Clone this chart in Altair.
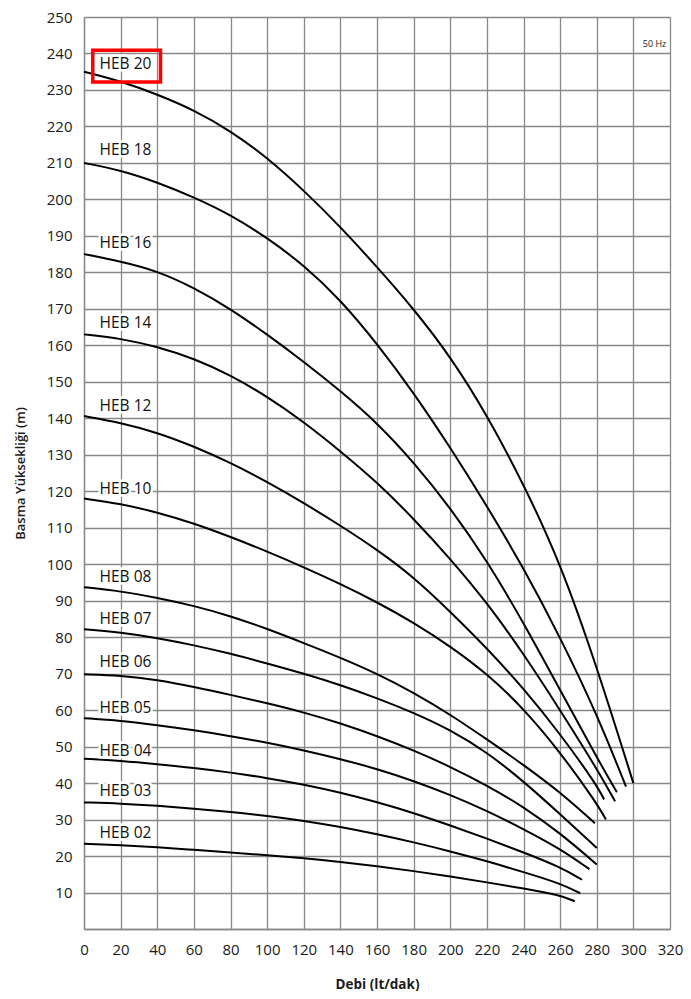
import altair as alt
import pandas as pd

STEP = [0, 20, 40, 60, 80, 100, 120, 140, 160, 180, 200, 220, 240, 260, 280]

Q_20 = STEP + [300]
H_20 = [235, 232.4, 228.8, 224.5, 218.8, 211.5, 202.5, 192.5, 181.5, 170, 157, 141, 122, 100.5, 72, 40]
Q_18 = STEP + [296]
H_18 = [210, 208, 204.7, 200.6, 195.8, 189.5, 182, 172.5, 160.5, 147, 132, 116, 99, 80, 59, 39]
Q_16 = STEP + [291]
H_16 = [185, 183, 180.4, 175.8, 170, 163, 155.5, 147.5, 138.8, 128, 115.5, 101, 84, 65.5, 47, 37.5]
Q_14 = STEP + [290]
H_14 = [163, 161.9, 159.6, 156.4, 151.8, 146, 139, 131, 122.5, 112.5, 101.5, 89.5, 75.5, 60, 44, 35]
Q_12 = STEP + [284]
H_12 = [140.6, 138.8, 136.1, 132.3, 127.8, 122.6, 116.8, 110.6, 104, 96.5, 87, 77, 66, 53.5, 39.5, 35.5]
Q_10 = STEP + [285]
H_10 = [118, 116.6, 114.2, 111.2, 107.5, 103.5, 99.2, 94.6, 89.6, 84, 77.5, 70, 60.5, 48.5, 34.5, 30]
Q_08 = STEP[:-1] + [279]
H_08 = [93.7, 92.6, 90.8, 88.6, 85.8, 82.3, 78.4, 74.4, 70, 64.8, 58.8, 52, 45, 37.5, 29]
Q_07 = STEP
H_07 = [82.2, 81.3, 79.8, 77.8, 75.5, 72.8, 70, 66.9, 63.3, 59.3, 54.6, 48.5, 40.5, 31.5, 22.2]
Q_06 = STEP
H_06 = [69.8, 69.5, 68.3, 66.4, 64.2, 61.9, 59.4, 56.4, 52.9, 49, 44.5, 39.4, 33.5, 26.3, 17.7]
Q_05 = STEP[:-1] + [276]
H_05 = [57.8, 57.1, 55.9, 54.5, 52.9, 51.1, 49, 46.6, 43.9, 40.6, 36.8, 32.4, 27.4, 22, 16.4]
Q_04 = STEP[:-1] + [272]
H_04 = [46.7, 46.1, 45.2, 44.2, 42.9, 41.4, 39.6, 37.4, 34.8, 31.8, 28.4, 24.8, 21, 17, 13.5]
Q_03 = STEP[:-1] + [271]
H_03 = [34.7, 34.4, 33.8, 33, 32.1, 31, 29.7, 28, 26, 23.8, 21.3, 18.6, 15.6, 12.5, 9.8]
Q_02 = STEP[:-1] + [268]
H_02 = [23.4, 23, 22.4, 21.7, 21, 20.2, 19.4, 18.4, 17.2, 15.9, 14.4, 12.8, 11.1, 9.3, 7.6]

MODELS = ["HEB 20", "HEB 18", "HEB 16", "HEB 14", "HEB 12", "HEB 10", "HEB 08",
          "HEB 07", "HEB 06", "HEB 05", "HEB 04", "HEB 03", "HEB 02"]
CURVES = [(Q_20, H_20), (Q_18, H_18), (Q_16, H_16), (Q_14, H_14), (Q_12, H_12),
          (Q_10, H_10), (Q_08, H_08), (Q_07, H_07), (Q_06, H_06), (Q_05, H_05),
          (Q_04, H_04), (Q_03, H_03), (Q_02, H_02)]

LABEL_Q = [8.5] * 13
LABEL_H = [237, 213.6, 188, 166, 143.3, 120.5, 96.4, 85, 73.3, 60.5, 48.9, 37.7, 26.3]

HIGHLIGHT = {"q0": 4.8, "q1": 41.8, "h0": 232.2, "h1": 240.9}
FREQ = {"text": "50 Hz", "q": 318, "h": 242.5}

X_TICKS = list(range(0, 321, 20))
Y_GRID = list(range(0, 251, 10))

rows = []
for m, (qs, hs) in zip(MODELS, CURVES):
    for q, h in zip(qs, hs):
        rows.append({"model": m, "q": q, "h": h})
df = pd.DataFrame(rows)
lab = pd.DataFrame({"model": MODELS, "q": LABEL_Q, "h": LABEL_H})

FONT = "Open Sans"
xs = alt.Scale(domain=[0, 320], nice=False, zero=False)
ys = alt.Scale(domain=[0, 250], nice=False, zero=False)

x_axis = alt.Axis(values=X_TICKS, grid=True, gridColor="#888888", gridWidth=1.3,
                  gridOpacity=1, ticks=False, domainColor="#888888", domainWidth=1.3,
                  labelFont=FONT, labelFontSize=15, labelColor="#1a1a1a", labelPadding=13,
                  labelOverlap=False, labelFlush=False, labelSeparation=0,
                  title="Debi (lt/dak)", titleFont=FONT, titleFontSize=13.5,
                  titleFontWeight="bold", titleColor="#1a1a1a", titlePadding=20)
y_axis = alt.Axis(values=Y_GRID, grid=True, gridColor="#888888", gridWidth=1.3,
                  gridOpacity=1, ticks=False, domainColor="#888888", domainWidth=1.3,
                  labelFont=FONT, labelFontSize=15, labelColor="#1a1a1a", labelPadding=12,
                  labelOverlap=False, labelFlush=False, labelSeparation=0,
                  labelExpr="datum.value == 0 ? '' : datum.label",
                  title="Basma Yüksekliği (m)", titleFont=FONT, titleFontSize=13,
                  titleFontWeight=600, titleColor="#1a1a1a", titlePadding=19)


def X(field):
    return alt.X(field, scale=xs, axis=x_axis, title="Debi (lt/dak)")


def Y(field):
    return alt.Y(field, scale=ys, axis=y_axis, title="Basma Yüksekliği (m)")


lines = alt.Chart(df).mark_line(color="black", strokeWidth=2, interpolate="basis").encode(
    x=X("q:Q"), y=Y("h:Q"), detail="model:N", order="q:Q",
)

halo = alt.Chart(lab).mark_text(align="left", baseline="middle", font=FONT, fontSize=15.5,
                                stroke="white", strokeWidth=5, color="white").encode(
    x=X("q:Q"), y=Y("h:Q"), text="model:N")
labels = alt.Chart(lab).mark_text(align="left", baseline="middle", font=FONT, fontSize=15.5,
                                  color="#111").encode(
    x=X("q:Q"), y=Y("h:Q"), text="model:N")

box = alt.Chart(pd.DataFrame([HIGHLIGHT])).mark_rect(fill=None, stroke="#ff0000",
                                                     strokeWidth=3.5, fillOpacity=0).encode(
    x=X("q0:Q"), x2="q1:Q", y=Y("h0:Q"), y2="h1:Q")

freq = alt.Chart(pd.DataFrame([FREQ])).mark_text(align="right", baseline="middle", font=FONT,
                                                 fontSize=9, color="#222").encode(
    x=X("q:Q"), y=Y("h:Q"), text="text:N")

chart = alt.layer(lines, halo, labels, box, freq).properties(
    width=586, height=912,
    padding={"left": 76, "top": 9, "right": 13, "bottom": 62},
    autosize="none",
).configure_view(stroke=None).configure_axis(labelOverlap=False).configure(background="white")

chart.save("out.html", embed_options={"renderer": "svg", "actions": False})
